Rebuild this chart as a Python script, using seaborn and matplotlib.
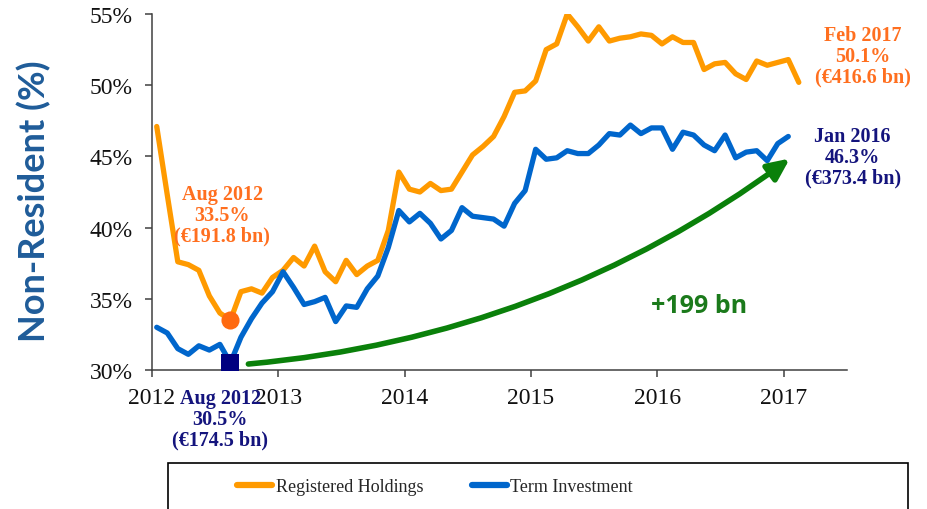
import numpy as np
import pandas as pd
import matplotlib
matplotlib.use("Agg")
import matplotlib.pyplot as plt
from matplotlib.patches import Rectangle
from matplotlib.lines import Line2D
from matplotlib.ticker import FuncFormatter
import seaborn as sns

# ---------------- data (monthly, Jan 2012 onwards) ----------------
registered = [47.1, 42.3, 37.6, 37.4, 37.0, 35.2, 34.0, 33.5, 35.5, 35.7, 35.4, 36.5,
              37.0, 37.9, 37.3, 38.7, 36.9, 36.2, 37.7, 36.7, 37.3, 37.7, 39.8, 43.9,
              42.7, 42.5, 43.1, 42.6, 42.7, 43.9, 45.1, 45.7, 46.4, 47.8, 49.5, 49.6,
              50.3, 52.5, 52.9, 55.0, 54.1, 53.1, 54.1, 53.1, 53.3, 53.4, 53.6, 53.5,
              52.9, 53.4, 53.0, 53.0, 51.1, 51.5, 51.6, 50.8, 50.4, 51.7, 51.4, 51.6,
              51.8, 50.2]
term = [33.0, 32.6, 31.5, 31.1, 31.7, 31.4, 31.8, 30.5, 32.3, 33.6, 34.7, 35.5,
        36.9, 35.8, 34.6, 34.8, 35.1, 33.4, 34.5, 34.4, 35.7, 36.6, 38.6, 41.2,
        40.4, 41.0, 40.3, 39.2, 39.8, 41.4, 40.8, 40.7, 40.6, 40.1, 41.7, 42.6,
        45.5, 44.8, 44.9, 45.4, 45.2, 45.2, 45.8, 46.6, 46.5, 47.2, 46.6, 47.0,
        47.0, 45.5, 46.7, 46.5, 45.8, 45.4, 46.5, 44.9, 45.3, 45.4, 44.7, 45.9,
        46.4]
months_reg = pd.date_range("2012-01-01", periods=len(registered), freq="MS")
months_term = pd.date_range("2012-01-01", periods=len(term), freq="MS")
series_names = ["Registered Holdings", "Term Investment"]
year_ticks = [2012, 2013, 2014, 2015, 2016, 2017]
pct_ticks = [30, 35, 40, 45, 50, 55]

def dec_year(idx):
    return idx.year + (idx.month - 0.55) / 12.0

t_reg = dec_year(months_reg)
t_term = dec_year(months_term)

df = pd.concat([
    pd.DataFrame({"t": t_reg, "value": registered, "series": series_names[0]}),
    pd.DataFrame({"t": t_term, "value": term, "series": series_names[1]}),
], ignore_index=True)

ORANGE = "#FF9A00"
BLUE = "#0066CC"
ORANGE_TXT = "#FF6F1F"
NAVY = "#14147D"
GREEN = "#0A800A"
GREEN_TXT = "#1B7A1B"

sns.set_style("ticks")
plt.rcParams['font.family'] = ['Liberation Serif', 'DejaVu Serif']

fig = plt.figure(figsize=(9.28, 5.10), dpi=100)
ax = fig.add_axes([152 / 928, 1 - 371 / 510, (846.7 - 152) / 928, (371 - 15) / 510])

sns.lineplot(data=df, x="t", y="value", hue="series", hue_order=series_names,
             palette={series_names[0]: ORANGE, series_names[1]: BLUE},
             linewidth=3.8, ax=ax, legend=False,
             solid_joinstyle="round", solid_capstyle="round")

# highlighted Aug 2012 points
aug = 7
sns.scatterplot(x=[t_reg[aug]], y=[registered[aug]], color="#FF6A10", s=170,
                marker="o", linewidth=0, ax=ax, zorder=5)
sns.scatterplot(x=[t_term[aug]], y=[term[aug]], color="#000080", s=170,
                marker="s", linewidth=0, ax=ax, zorder=5)

ax.set_xlim(2012, 2017.5)
ax.set_ylim(30, 55)
ax.set_xticks(year_ticks)
ax.set_yticks(pct_ticks)
ax.xaxis.set_major_formatter(FuncFormatter(lambda v, p: f"{v:.0f}"))
ax.yaxis.set_major_formatter(FuncFormatter(lambda v, p: f"{v:.0f}%"))
ax.set_xlabel("")
ax.set_ylabel("")
sns.despine(ax=ax)
for s in ("left", "bottom"):
    ax.spines[s].set_color("#404040")
    ax.spines[s].set_linewidth(1.1)
ax.tick_params(axis="both", labelsize=17, length=5, width=1.1, color="#404040",
               labelcolor="#111111", direction="out")
ax.tick_params(axis="y", pad=9)
ax.tick_params(axis="x", pad=7)

# green growth arrow
ax.annotate("", xy=(2017.05, 44.85), xytext=(2012.763, 30.42),
            arrowprops=dict(arrowstyle="-|>,head_length=0.65,head_width=0.3",
                            color=GREEN, lw=4, mutation_scale=20,
                            connectionstyle="arc3,rad=0.14",
                            shrinkA=0, shrinkB=0), zorder=4)
ax.text(2016.334, 34.5, "+199 bn", color=GREEN_TXT, fontsize=18, fontweight="bold",
        family=["Open Sans", "DejaVu Sans"], ha="center", va="center")

# text annotations
kw = dict(fontsize=14.5, fontweight="bold", ha="center", va="center",
          linespacing=1.05, clip_on=False)
ax.text(2012.555, 40.9, "Aug 2012\n33.5%\n(€191.8 bn)", color=ORANGE_TXT, **kw)
ax.text(2012.54, 26.56, "Aug 2012\n30.5%\n(€174.5 bn)", color=NAVY, **kw)
ax.text(2017.626, 52.05, "Feb 2017\n50.1%\n(€416.6 bn)", color=ORANGE_TXT, **kw)
ax.text(2017.547, 44.96, "Jan 2016\n46.3%\n(€373.4 bn)", color=NAVY, **kw)

# y label
fig.text(34 / 928, 1 - 201 / 510, "Non-Resident (%)", rotation=90, ha="center",
         va="center", fontsize=26, fontweight="bold",
         family=["Lato", "DejaVu Sans"], color="#1F5C99")

# legend box extending past bottom edge
fig.patches.append(Rectangle((168 / 928, -0.05), 740 / 928, 0.05 + (510 - 464) / 510,
                             transform=fig.transFigure, fill=False,
                             edgecolor="black", linewidth=1.2, clip_on=False))
handles = [Line2D([], [], color=ORANGE, lw=4.5, solid_capstyle="round"),
           Line2D([], [], color=BLUE, lw=4.5, solid_capstyle="round")]
fig.legend(handles, series_names, loc="center", bbox_to_anchor=(435 / 928, 1 - 488 / 510),
           ncol=2, frameon=False, fontsize=13, handlelength=1.95,
           handletextpad=0.17, columnspacing=2.7)

fig.savefig("out.png", dpi=100)
